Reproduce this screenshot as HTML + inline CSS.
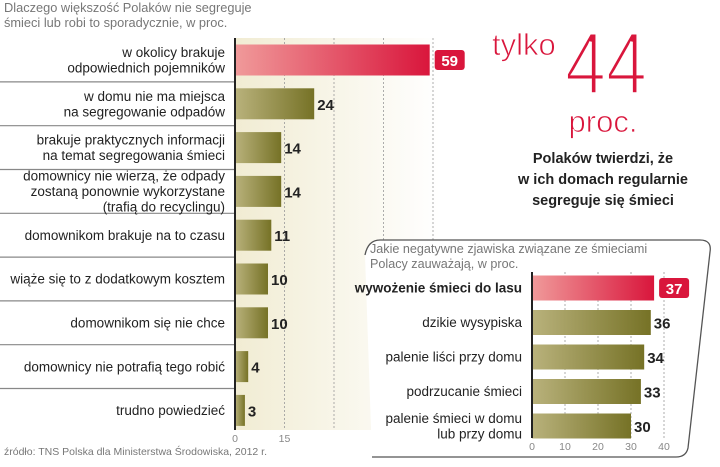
<!DOCTYPE html>
<html><head><meta charset="utf-8">
<style>
html,body{margin:0;padding:0;background:#fff;}
svg{display:block;font-family:"Liberation Sans",sans-serif;}
</style></head>
<body>
<svg id="chart" width="720" height="467" viewBox="0 0 720 467" xmlns="http://www.w3.org/2000/svg">
<defs>
<linearGradient id="bg" x1="0" x2="1" y1="0" y2="0"><stop offset="0" stop-color="#f1ecd3"/><stop offset="1" stop-color="#fff"/></linearGradient>
<linearGradient id="olive" x1="0" x2="1"><stop offset="0" stop-color="#b9b27c"/><stop offset="1" stop-color="#767226"/></linearGradient>
<linearGradient id="red" x1="0" x2="1"><stop offset="0" stop-color="#f09a9a"/><stop offset="1" stop-color="#d9163c"/></linearGradient>
</defs>
<text x="4" y="12" font-size="12.8" fill="#777">Dlaczego większość Polaków nie segreguje</text>
<text x="4" y="27" font-size="12.8" fill="#777">śmieci lub robi to sporadycznie, w proc.</text>
<rect x="235" y="38" width="205" height="392" fill="url(#bg)"/>
<g id="main"></g>
<text x="4" y="455" font-size="10.5" fill="#777">źródło: TNS Polska dla Ministerstwa Środowiska, 2012 r.</text>
<text x="492" y="55" font-size="31" fill="#d9163c" stroke="#fff" stroke-width="0.8">tylko</text>
<text x="565" y="94" font-size="88" fill="#d9163c" stroke="#fff" stroke-width="3" paint-order="fill" textLength="82" lengthAdjust="spacingAndGlyphs">44</text>
<text x="603" y="132" font-size="31" fill="#d9163c" stroke="#fff" stroke-width="0.8" text-anchor="middle">proc.</text>
<g font-size="14.5" font-weight="bold" fill="#222" text-anchor="middle">
<text x="603" y="163">Polaków twierdzi, że</text>
<text x="603" y="184">w ich domach regularnie</text>
<text x="603" y="205">segreguje się śmieci</text>
</g>
<path d="M365,255 Q368,240 380,240 L700,240 Q712,240 710,252 L688,448 Q686,457 676,457 L372,457" fill="#fff" stroke="#555" stroke-width="1.3"/>
<text x="370" y="253" font-size="12.6" fill="#777">Jakie negatywne zjawiska związane ze śmieciami</text>
<text x="370" y="268" font-size="12.6" fill="#777">Polacy zauważają, w proc.</text>
<g id="inset"></g>
</svg>
<script>
const mainCats=[["w okolicy brakuje","odpowiednich pojemników"],["w domu nie ma miejsca","na segregowanie odpadów"],["brakuje praktycznych informacji","na temat segregowania śmieci"],["domownicy nie wierzą, że odpady","zostaną ponownie wykorzystane","(trafią do recyclingu)"],["domownikom brakuje na to czasu"],["wiąże się to z dodatkowym kosztem"],["domownikom się nie chce"],["domownicy nie potrafią tego robić"],["trudno powiedzieć"]];
const mainVals=[59,24,14,14,11,10,10,4,3];
const mainTicks=[0,15];
const mainGrid=[15,30,45,60];
const insetCats=[["wywożenie śmieci do lasu"],["dzikie wysypiska"],["palenie liści przy domu"],["podrzucanie śmieci"],["palenie śmieci w domu","lub przy domu"]];
const insetVals=[37,36,34,33,30];
const insetTicks=[0,10,20,30,40];

const NS="http://www.w3.org/2000/svg";
function mk(p,t,a,txt){const e=document.createElementNS(NS,t);for(const k in a)e.setAttribute(k,a[k]);if(txt!=null)e.textContent=txt;p.appendChild(e);return e;}

function draw(g,cats,vals,ticks,grid,x0,ppu,yTop,step,barH,top,bot,labelX,fs,sep,name){
  const xs=v=>x0+v*ppu, yc=i=>yTop+i*step;
  grid.forEach(v=>{const l=mk(g,'line',{x1:xs(v),x2:xs(v),y1:top,y2:bot,stroke:'#999','stroke-dasharray':'2,2','stroke-width':0.8});
    
    });
  cats.forEach((c,i)=>{
    const y=yc(i);
    if(sep&&i<cats.length-1){const s=mk(g,'line',{x1:0,x2:x0,y1:y+step/2,y2:y+step/2,stroke:'#888','stroke-width':1.2});
      
      }
    const hl=i===0;
    const r=mk(g,'rect',{x:x0,y:y-barH/2,width:xs(vals[i])-x0,height:barH,fill:hl?'url(#red)':'url(#olive)'});
    
    
    const lh=fs+2, n=c.length;
    c.forEach((ln,j)=>{const t=mk(g,'text',{x:labelX,y:y+(j-(n-1)/2)*lh+fs*0.35,'font-size':fs,fill:'#222','text-anchor':'end','font-weight':(hl&&name==='inset')?'bold':'normal'},ln);
      
      });
    if(hl){const bx=xs(vals[i])+5;
      const b=mk(g,'rect',{x:bx,y:y-10,width:30,height:20,rx:3,fill:'#d9163c'});
      
      
      const t=mk(g,'text',{x:bx+15,y:y+6,'font-size':15,'font-weight':'bold',fill:'#fff','text-anchor':'middle'},vals[i]);
      
      }
    else{const t=mk(g,'text',{x:xs(vals[i])+3,y:y+6,'font-size':15,'font-weight':'bold',fill:'#222'},vals[i]);
      
      }
  });
  const ax=mk(g,'line',{x1:x0,x2:x0,y1:top,y2:bot,stroke:'#222','stroke-width':2});
  
  
  ticks.forEach(v=>{const t=mk(g,'text',{x:xs(v),y:bot+12,'font-size':10.5,fill:'#888','text-anchor':'middle'},v);
    
    });
}
draw(document.getElementById('main'),mainCats,mainVals,mainTicks,mainGrid,235,3.3,60,43.8,31,38,430,225,13.5,true,'main');
draw(document.getElementById('inset'),insetCats,insetVals,insetTicks,[10,20,30,40],532,3.3,288,34.5,25,272,438,522,13.5,false,'inset');
</script>
</body></html>
